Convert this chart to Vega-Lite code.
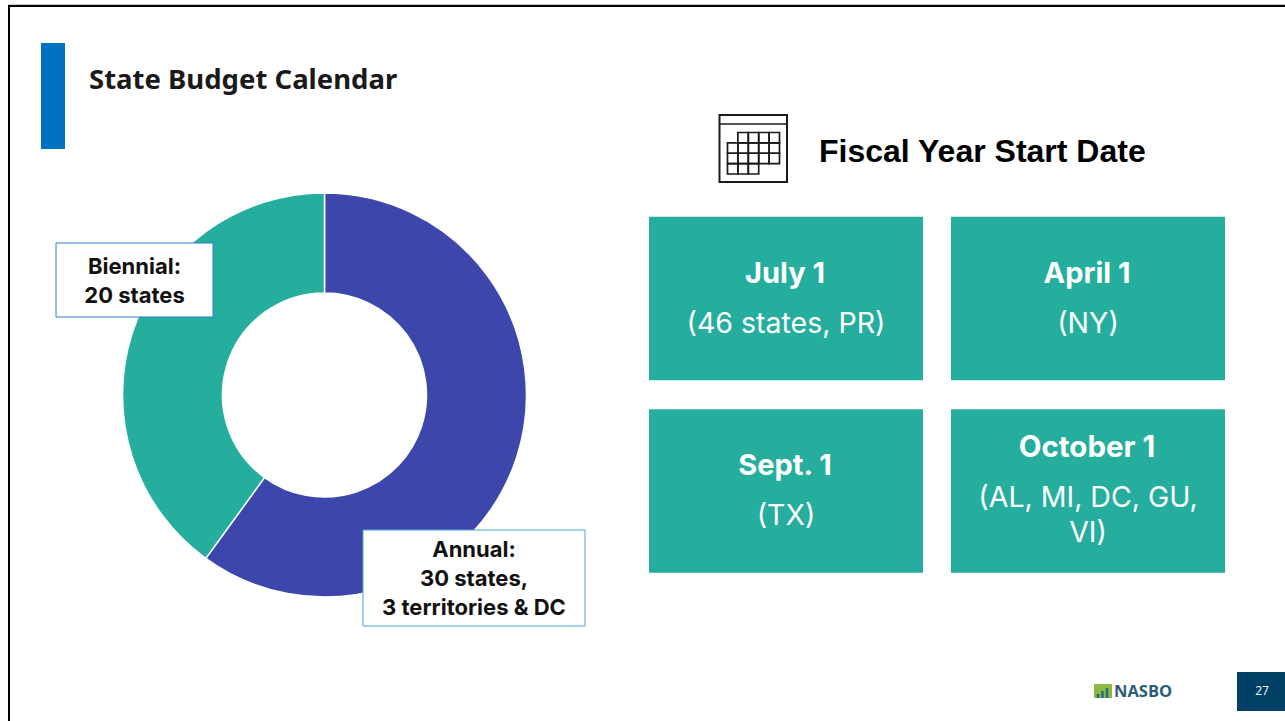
{
"$schema":"https://vega.github.io/schema/vega-lite/v6.json",
"autosize":{"type":"none"},
"width":1285,"height":721,"padding":0,"background":"white",
"view":{"stroke":null},
"config":{"text":{"lineBreak":"\n"}},
"datasets":{
"budget":[{"cycle":"Annual","states":30,"label":"Annual:\n  30 states,\n3 territories & DC"},{"cycle":"Biennial","states":20,"label":"Biennial:\n20 states"}],
"cards":[
{"start":"July 1","who":"(46 states, PR)","col":"left","row":"top","lines":1},
{"start":"April 1","who":"(NY)","col":"right","row":"top","lines":1},
{"start":"Sept. 1","who":"(TX)","col":"left","row":"bottom","lines":1},
{"start":"October 1","who":"(AL, MI, DC, GU,\nVI)","col":"right","row":"bottom","lines":2}],
"cells":[
{"c":1,"r":0},{"c":2,"r":0},{"c":3,"r":0},{"c":4,"r":0},
{"c":0,"r":1},{"c":1,"r":1},{"c":2,"r":1},{"c":3,"r":1},{"c":4,"r":1},
{"c":0,"r":2},{"c":1,"r":2},{"c":2,"r":2},{"c":3,"r":2},{"c":4,"r":2},
{"c":0,"r":3},{"c":1,"r":3},{"c":2,"r":3}],
"logo":[{"bar":"a","h":4},{"bar":"b","h":7},{"bar":"c","h":10}]
},
"resolve":{"scale":{"x":"independent","y":"independent","color":"independent"}},
"layer":[
{"data":{"values":[{}]},"mark":{"type":"rule","stroke":"#c8c8c8","strokeWidth":1},"encoding":{"x":{"datum":8,"type":"quantitative","scale":{"domain":[0,1285]},"axis":null},"x2":{"datum":1285},"y":{"datum":4.5,"type":"quantitative","scale":{"domain":[721,0]},"axis":null}}},
{"data":{"values":[{}]},"mark":{"type":"rule","stroke":"#000000","strokeWidth":2},"encoding":{"x":{"datum":8,"type":"quantitative","scale":{"domain":[0,1285]},"axis":null},"x2":{"datum":1285},"y":{"datum":6,"type":"quantitative","scale":{"domain":[721,0]},"axis":null}}},
{"data":{"values":[{}]},"mark":{"type":"rule","stroke":"#000000","strokeWidth":2},"encoding":{"x":{"datum":9,"type":"quantitative","scale":{"domain":[0,1285]},"axis":null},"y":{"datum":5,"type":"quantitative","scale":{"domain":[721,0]},"axis":null},"y2":{"datum":721}}},
{"data":{"values":[{}]},"mark":{"type":"rect","fill":"#0070C0"},"encoding":{"x":{"datum":41,"type":"quantitative","scale":{"domain":[0,1285]},"axis":null},"x2":{"datum":65},"y":{"datum":43,"type":"quantitative","scale":{"domain":[721,0]},"axis":null},"y2":{"datum":149}}},
{"data":{"values":[{"t":"State Budget Calendar"}]},"mark":{"type":"text","font":"Noto Sans","fontWeight":"bold","fontSize":27.5,"align":"left","baseline":"middle","fill":"#1a1a1a"},"encoding":{"text":{"field":"t"},"x":{"datum":89,"type":"quantitative","scale":{"domain":[0,1285]},"axis":null},"y":{"datum":81,"type":"quantitative","scale":{"domain":[721,0]},"axis":null}}},
{"data":{"name":"budget"},"mark":{"type":"arc","outerRadius":202,"innerRadius":102,"stroke":"white","strokeWidth":1.5},"encoding":{"theta":{"field":"states","type":"quantitative","stack":true},"color":{"field":"cycle","type":"nominal","legend":null,"scale":{"domain":["Annual","Biennial"],"range":["#3C46AB","#25AE9E"]}},"order":{"field":"cycle"},"x":{"datum":324.5,"type":"quantitative","scale":{"domain":[0,1285]},"axis":null},"y":{"datum":395,"type":"quantitative","scale":{"domain":[721,0]},"axis":null}}},
{"data":{"values":[{}]},"mark":{"type":"rect","fill":"white","stroke":"#2E7FC8","strokeWidth":1},"encoding":{"x":{"datum":56,"type":"quantitative","scale":{"domain":[0,1285]},"axis":null},"x2":{"datum":213},"y":{"datum":243,"type":"quantitative","scale":{"domain":[721,0]},"axis":null},"y2":{"datum":317}}},
{"data":{"values":[{}]},"mark":{"type":"rect","fill":"white","stroke":"#4AA5DC","strokeWidth":1},"encoding":{"x":{"datum":363,"type":"quantitative","scale":{"domain":[0,1285]},"axis":null},"x2":{"datum":585},"y":{"datum":530,"type":"quantitative","scale":{"domain":[721,0]},"axis":null},"y2":{"datum":626}}},
{"data":{"name":"budget"},"transform":[{"filter":"datum.cycle==='Biennial'"}],"mark":{"type":"text","font":"Inter","fontWeight":"bold","fontSize":22,"lineHeight":29,"align":"center","baseline":"middle","fill":"#111111"},"encoding":{"text":{"field":"label"},"x":{"datum":134.5,"type":"quantitative","scale":{"domain":[0,1285]},"axis":null},"y":{"datum":267,"type":"quantitative","scale":{"domain":[721,0]},"axis":null}}},
{"data":{"name":"budget"},"transform":[{"filter":"datum.cycle==='Annual'"}],"mark":{"type":"text","font":"Inter","fontWeight":"bold","fontSize":22,"lineHeight":29,"align":"center","baseline":"middle","fill":"#111111"},"encoding":{"text":{"field":"label"},"x":{"datum":474,"type":"quantitative","scale":{"domain":[0,1285]},"axis":null},"y":{"datum":550,"type":"quantitative","scale":{"domain":[721,0]},"axis":null}}},
{"data":{"values":[{}]},"mark":{"type":"rect","fill":"white","stroke":"#1a1a1a","strokeWidth":2},"encoding":{"x":{"datum":719.5,"type":"quantitative","scale":{"domain":[0,1285]},"axis":null},"x2":{"datum":787},"y":{"datum":115,"type":"quantitative","scale":{"domain":[721,0]},"axis":null},"y2":{"datum":182}}},
{"data":{"values":[{}]},"mark":{"type":"rule","stroke":"#1a1a1a","strokeWidth":1.5},"encoding":{"x":{"datum":719.5,"type":"quantitative","scale":{"domain":[0,1285]},"axis":null},"x2":{"datum":787},"y":{"datum":124,"type":"quantitative","scale":{"domain":[721,0]},"axis":null}}},
{"data":{"name":"cells"},"mark":{"type":"rect","fill":null,"stroke":"#1a1a1a","strokeWidth":1.7},"encoding":{"x":{"field":"c","type":"ordinal","axis":null,"scale":{"domain":[0,1,2,3,4],"range":[727.5,779.5],"paddingInner":0,"paddingOuter":0}},"y":{"field":"r","type":"ordinal","axis":null,"scale":{"domain":[0,1,2,3],"range":[132.5,174],"paddingInner":0,"paddingOuter":0}}}},
{"data":{"values":[{"t":"Fiscal Year Start Date"}]},"mark":{"type":"text","font":"Liberation Sans","fontWeight":"bold","fontSize":32,"align":"left","baseline":"middle","fill":"#000000"},"encoding":{"text":{"field":"t"},"x":{"datum":819,"type":"quantitative","scale":{"domain":[0,1285]},"axis":null},"y":{"datum":152,"type":"quantitative","scale":{"domain":[721,0]},"axis":null}}},
{"data":{"name":"cards"},"mark":{"type":"rect","fill":"#25AE9E","width":274,"height":163.5},"encoding":{"x":{"field":"col","type":"nominal","axis":null,"scale":{"type":"point","padding":0,"domain":["left","right"],"range":[786,1088]}},"y":{"field":"row","type":"nominal","axis":null,"scale":{"type":"point","padding":0,"domain":["top","bottom"],"range":[298.5,491]}}}},
{"data":{"name":"cards"},"transform":[{"filter":"datum.lines===1"}],"mark":{"type":"text","font":"Inter","fontWeight":"bold","fontSize":29,"dy":-25,"align":"center","baseline":"middle","fill":"white"},"encoding":{"text":{"field":"start"},"x":{"field":"col","type":"nominal","axis":null,"scale":{"type":"point","padding":0,"domain":["left","right"],"range":[785,1087]}},"y":{"field":"row","type":"nominal","axis":null,"scale":{"type":"point","padding":0,"domain":["top","bottom"],"range":[298.5,491]}}}},
{"data":{"name":"cards"},"transform":[{"filter":"datum.lines===2"}],"mark":{"type":"text","font":"Inter","fontWeight":"bold","fontSize":29.5,"dy":-43,"align":"center","baseline":"middle","fill":"white"},"encoding":{"text":{"field":"start"},"x":{"field":"col","type":"nominal","axis":null,"scale":{"type":"point","padding":0,"domain":["left","right"],"range":[785,1087]}},"y":{"field":"row","type":"nominal","axis":null,"scale":{"type":"point","padding":0,"domain":["top","bottom"],"range":[298.5,491]}}}},
{"data":{"name":"cards"},"transform":[{"filter":"datum.lines===1"}],"mark":{"type":"text","font":"Inter","fontSize":28.5,"dy":25,"align":"center","baseline":"middle","fill":"white"},"encoding":{"text":{"field":"who"},"x":{"field":"col","type":"nominal","axis":null,"scale":{"type":"point","padding":0,"domain":["left","right"],"range":[786,1088]}},"y":{"field":"row","type":"nominal","axis":null,"scale":{"type":"point","padding":0,"domain":["top","bottom"],"range":[298.5,491]}}}},
{"data":{"name":"cards"},"transform":[{"filter":"datum.lines===2"}],"mark":{"type":"text","font":"Inter","fontSize":28.5,"lineHeight":35,"dy":7,"align":"center","baseline":"middle","fill":"white"},"encoding":{"text":{"field":"who"},"x":{"field":"col","type":"nominal","axis":null,"scale":{"type":"point","padding":0,"domain":["left","right"],"range":[786,1088]}},"y":{"field":"row","type":"nominal","axis":null,"scale":{"type":"point","padding":0,"domain":["top","bottom"],"range":[298.5,491]}}}},
{"data":{"values":[{}]},"mark":{"type":"rect","fill":"#8DB83F"},"encoding":{"x":{"datum":1094,"type":"quantitative","scale":{"domain":[0,1285]},"axis":null},"x2":{"datum":1112},"y":{"datum":684,"type":"quantitative","scale":{"domain":[721,0]},"axis":null},"y2":{"datum":698}}},
{"data":{"name":"logo"},"mark":{"type":"bar","fill":"#1F6F8B","size":2.5},"encoding":{"x":{"field":"bar","type":"nominal","axis":null,"scale":{"type":"point","padding":0,"domain":["a","b","c"],"range":[1098,1107]}},"y":{"field":"h","type":"quantitative","axis":null,"scale":{"domain":[0,721],"range":[698,-23]}}}},
{"data":{"values":[{"t":"NASBO"}]},"mark":{"type":"text","font":"Open Sans","fontWeight":"bold","fontSize":16.5,"align":"left","baseline":"middle","fill":"#2B5D78"},"encoding":{"text":{"field":"t"},"x":{"datum":1114,"type":"quantitative","scale":{"domain":[0,1285]},"axis":null},"y":{"datum":692,"type":"quantitative","scale":{"domain":[721,0]},"axis":null}}},
{"data":{"values":[{}]},"mark":{"type":"rect","fill":"#003F66"},"encoding":{"x":{"datum":1237,"type":"quantitative","scale":{"domain":[0,1285]},"axis":null},"x2":{"datum":1285},"y":{"datum":672,"type":"quantitative","scale":{"domain":[721,0]},"axis":null},"y2":{"datum":711}}},
{"data":{"values":[{"t":"27"}]},"mark":{"type":"text","font":"Open Sans","fontSize":12,"align":"center","baseline":"middle","fill":"white"},"encoding":{"text":{"field":"t"},"x":{"datum":1262,"type":"quantitative","scale":{"domain":[0,1285]},"axis":null},"y":{"datum":691,"type":"quantitative","scale":{"domain":[721,0]},"axis":null}}}
]
}
